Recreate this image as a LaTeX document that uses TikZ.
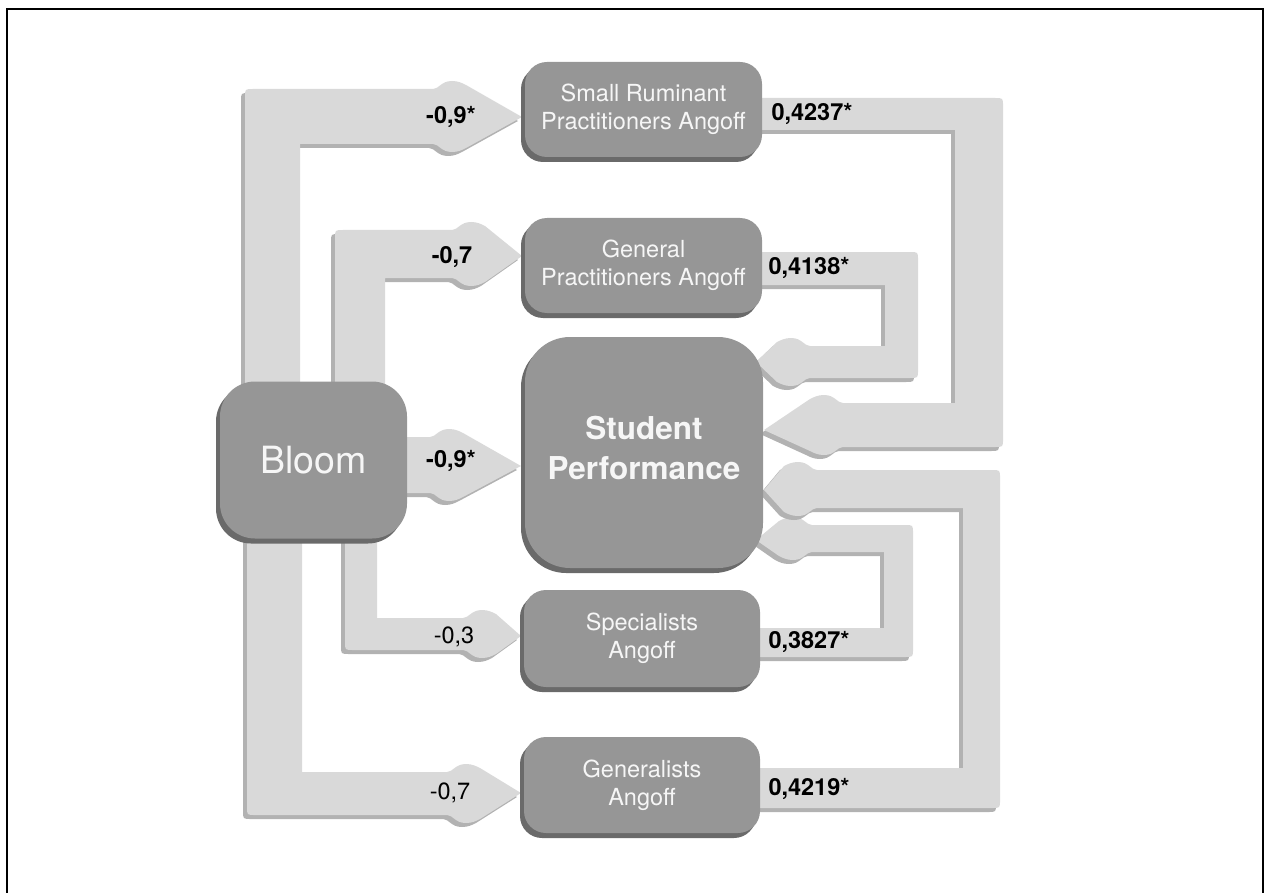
\documentclass[tikz,border=0pt]{standalone}
\usepackage{fontspec}
\setmainfont{TeX Gyre Heros}
\usetikzlibrary{shadows}
\pgfdeclarelayer{background}
\pgfsetlayers{background,main}
\definecolor{afill}{RGB}{217,217,217}
\definecolor{ashade}{RGB}{178,178,178}
\definecolor{nfill}{RGB}{150,150,150}
\definecolor{nshade}{RGB}{106,106,106}
\definecolor{ntext}{RGB}{246,246,246}
\begin{document}
\begin{tikzpicture}[x=1pt,y=-1pt,
  box/.style={rounded corners=22pt, fill=nfill, text=ntext, align=center,
    minimum width=237pt, minimum height=95pt, inner sep=0pt,
    font=\fontsize{23.5}{28}\selectfont,
    general shadow={shadow xshift=-4pt, shadow yshift=-5pt, fill=nshade}},
  arrow/.style={fill=afill,
    general shadow={shadow xshift=-4pt, shadow yshift=-4pt, fill=ashade}},
  lbl/.style={font=\bfseries\fontsize{23.5}{27}\selectfont, text=black, inner sep=0pt},
  lbln/.style={font=\fontsize{23.5}{27}\selectfont, text=black, inner sep=0pt},
  headR/.style n args={4}{insert path={
    -- (#1,#2) .. controls ({#1+6},#2) and ({#1+8},{#2-8}) .. ({#1+19},{#2-8})
    .. controls ({#1+25},{#2-8}) and ({#1+29},{#2-6}) .. ({#1+33},{#2-4})
    -- (#4) -- ({#1+33},{#3+4})
    .. controls ({#1+29},{#3+6}) and ({#1+25},{#3+8}) .. ({#1+19},{#3+8})
    .. controls ({#1+8},{#3+8}) and ({#1+6},#3) .. (#1,#3)}},
  headL/.style n args={4}{insert path={
    -- (#1,#3) .. controls ({#1-6},#3) and ({#1-8},{#3+8}) .. ({#1-19},{#3+8})
    .. controls ({#1-25},{#3+8}) and ({#1-29},{#3+6}) .. ({#1-33},{#3+4})
    -- (#4) -- ({#1-33},{#2-4})
    .. controls ({#1-29},{#2-6}) and ({#1-25},{#2-8}) .. ({#1-19},{#2-8})
    .. controls ({#1-8},{#2-8}) and ({#1-6},#2) .. (#1,#2)}}
]
\useasboundingbox (0,0) rectangle (1265,893);
\draw[line width=2.5pt] (7,893) -- (7,9) -- (1263,9) -- (1263,893);

% nodes
\node[box] (SR) at (643.5,109.5) {Small Ruminant\\Practitioners Angoff};
\node[box] (GP) at (643.5,265.5) {General\\Practitioners Angoff};
\node[box, minimum width=238pt, minimum height=231pt, rounded corners=45pt, text depth=10pt,
  font=\bfseries\fontsize{31.5}{40}\selectfont] (SP) at (644,452.5) {Student\\Performance};
\node[box, minimum width=187pt, minimum height=157pt, rounded corners=35pt,
  font=\fontsize{37.5}{44}\selectfont] (B) at (313.5,460) {Bloom};
\node[box, minimum width=236pt, minimum height=97pt] (SA) at (642,638.5) {Specialists\\Angoff};
\node[box, minimum width=236pt, minimum height=96pt] (GA) at (642,785) {Generalists\\Angoff};

% arrow tips
\coordinate (t1) at (522,117);
\coordinate (t2) at (522,256);
\coordinate (t3) at (521,466);
\coordinate (t4) at (521,636);
\coordinate (t5) at (521,793);
\coordinate (t6) at (764,430);
\coordinate (t7) at (756,362);
\coordinate (t8) at (756,540);
\coordinate (t9) at (764,490);

\begin{pgfonlayer}{background}
% Bloom -> SR
\path[arrow] (300,450) -- (245,450) -- (245,97) .. controls (245,89) .. (253,89)
  [headR={433}{89}{144}{t1}] -- (300,144) -- cycle;
% Bloom -> GP
\path[arrow] (385,400) -- (335,400) -- (335,238) .. controls (335,230) .. (343,230)
  [headR={452}{230}{278}{t2}] -- (385,278) -- cycle;
% Bloom -> SP
\path[arrow] (395,437) [headR={430}{437}{493}{t3}] -- (395,493) -- cycle;
% Bloom -> Specialists
\path[arrow] (377,520) -- (377,618) [headR={463}{618}{650}{t4}]
  -- (353,650) .. controls (345,650) .. (345,642) -- (345,520) -- cycle;
% Bloom -> Generalists
\path[arrow] (302,520) -- (302,772) [headR={447}{772}{815}{t5}]
  -- (255,815) .. controls (247,815) .. (247,807) -- (247,520) -- cycle;
% SR -> SP
\path[arrow] (750,98) -- (995,98) .. controls (1003,98) .. (1003,106) -- (1003,439)
  .. controls (1003,447) .. (995,447) [headL={843}{403}{447}{t6}]
  -- (955,403) -- (955,130) -- (750,130) -- cycle;
% GP -> SP
\path[arrow] (750,252) -- (910,252) .. controls (918,252) .. (918,260) -- (918,370)
  .. controls (918,378) .. (910,378) [headL={810}{346}{378}{t7}]
  -- (885,346) -- (885,285) -- (750,285) -- cycle;
% Specialists -> SP
\path[arrow] (750,628) -- (884,628) -- (884,552) [headL={812}{525}{552}{t8}]
  -- (905,525) .. controls (913,525) .. (913,533) -- (913,649)
  .. controls (913,657) .. (905,657) -- (750,657) -- cycle;
% Generalists -> SP
\path[arrow] (750,768) -- (963,768) -- (963,508) [headL={817}{470}{508}{t9}]
  -- (992,470) .. controls (1000,470) .. (1000,478) -- (1000,800)
  .. controls (1000,808) .. (992,808) -- (750,808) -- cycle;
\end{pgfonlayer}

% labels
\node[lbl] (L1) at (451,117) {-0,9*};
\node[lbl] (L2) at (452,257) {-0,7};
\node[lbl] (L3) at (451,461) {-0,9*};
\node[lbln] (L4) at (454,637) {-0,3};
\node[lbln] (L5) at (450,793) {-0,7};
\node[lbl] (R1) at (812,114) {0,4237*};
\node[lbl] (R2) at (809,268) {0,4138*};
\node[lbl] (R3) at (809,642) {0,3827*};
\node[lbl] (R4) at (809,789) {0,4219*};
\end{tikzpicture}
\end{document}
